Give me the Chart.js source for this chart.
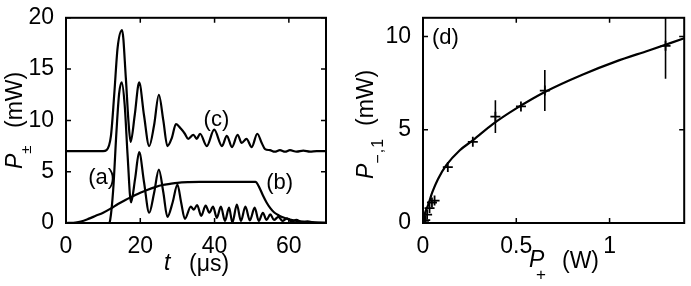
<!DOCTYPE html>
<html>
<head>
<meta charset="utf-8">
<script src="https://cdn.jsdelivr.net/npm/chart.js@4.4.1/dist/chart.umd.min.js"></script>
<style>
  body { margin:0; width:691px; height:286px; background:#fff; position:relative; overflow:hidden;
         font-family:'Liberation Sans', Arial, sans-serif; color:#000; }
  .box { position:absolute; top:0; height:286px; }
  .lbl { position:absolute; font-size:23px; line-height:23px; white-space:nowrap; }
  .rot { transform-origin:0 0; transform:rotate(-90deg); }
  .sub { position:relative; }
</style>
</head>
<body>
<div class="box" style="left:0;width:345px"><canvas id="left"></canvas></div>
<div class="box" style="left:345px;width:346px"><canvas id="right"></canvas></div>

<!-- axis titles -->
<div class="lbl" style="left:164px;top:251px"><i>t</i></div>
<div class="lbl" style="left:189px;top:252px">(μs)</div>
<div class="lbl rot" style="left:3px;top:169px"><i>P</i><span class="sub" style="top:9px;font-size:15px">±</span></div>
<div class="lbl rot" style="left:3px;top:128px">(mW)</div>

<div class="lbl" style="left:529px;top:248px"><i>P</i></div>
<div class="lbl" style="left:536px;top:266px;font-size:17px;line-height:17px">+</div>
<div class="lbl" style="left:562px;top:249px">(W)</div>
<div class="lbl rot" style="left:354px;top:179px"><i>P</i><span class="sub" style="top:10px;font-size:16px;letter-spacing:1px">−,1</span></div>
<div class="lbl rot" style="left:354px;top:126px">(mW)</div>

<script>
// ====== LEFT PANEL: time traces ======
// (a) lower oscillating trace
const tA = [0, 11.5, 11.9, 12.7, 13.6, 14.3, 15.0, 15.8, 16.6, 17.5, 18.6, 19.7, 21.0, 22.4, 23.7, 25.0, 26.2, 27.3, 28.7, 30.0,
            31.0, 32.0, 33.6, 34.4, 35.3, 36.4, 37.6, 38.6, 39.6, 40.6, 41.7, 42.8, 43.9, 44.8, 46.0, 47.1, 48.3, 49.5, 50.8, 51.9,
            53.0, 54.0, 55.0, 56.0, 57.2, 58.3, 59.5, 60.8, 62.0, 63.5, 65.0, 67.0, 70];
const pA = [0, 0, 0.3, 3.2, 9.0, 12.6, 13.7, 11.5, 6.5, 2.0, 4.3, 6.9, 4.0, 1.0, 2.9, 5.2, 3.0, 0.6, 2.0, 3.75,
            2.0, 0.4, 1.6, 1.3, 1.75, 0.7, 1.7, 1.0, 1.6, 0.5, 1.6, 0.2, 1.5, 0.05, 1.8, 0.2, 1.6, 0.25, 1.5, 0.2,
            1.0, 0.3, 0.85, 0.3, 0.6, 0.2, 0.45, 0.15, 0.3, 0.1, 0.15, 0.05, 0.02];
// (b) smooth input pulse
const tB = [0, 2, 4, 6, 8, 10, 12, 14, 16, 18, 20, 22, 24, 26, 28, 30, 33, 36, 51, 52, 53, 54, 55, 56, 57, 58, 60, 62, 65, 70];
const pB = [0, 0.02, 0.15, 0.4, 0.7, 1.0, 1.4, 1.85, 2.25, 2.6, 2.95, 3.25, 3.5, 3.7, 3.82, 3.92, 3.98, 4.0, 4.0, 3.5,
            2.7, 2.0, 1.45, 1.05, 0.8, 0.6, 0.35, 0.2, 0.08, 0.02];
// (c) upper trace (offset by 7 mW)
const tC = [0, 10, 10.9, 12.1, 13.0, 13.9, 15.1, 16.1, 16.8, 17.4, 18.5, 19.7, 21.0, 22.4, 23.7, 25.0, 26.2, 27.3, 28.5, 29.6,
            30.9, 32.0, 32.9, 34.3, 35.2, 36.1, 37.9, 39.9, 42.0, 43.3, 44.7, 46.2, 47.3, 48.6, 50.0, 51.5, 52.7, 53.6, 54.9, 56.2,
            57.6, 59.0, 60.3, 62.1, 63.9, 65.7, 67.5, 70];
const pC = [7, 7, 7.1, 8.5, 12.6, 17.1, 18.8, 14.2, 10.0, 7.9, 10.5, 13.7, 10.5, 7.5, 9.5, 12.5, 10.0, 7.5, 8.3, 9.65,
            9.2, 8.7, 8.2, 8.6, 8.2, 8.7, 7.5, 9.1, 7.5, 8.5, 7.4, 8.6, 7.8, 8.2, 7.4, 8.7, 7.8, 7.2, 7.1, 6.95,
            7.1, 6.95, 7.1, 6.95, 7.05, 6.95, 7.0, 7.0];
const leftNotes = ['(a)', '(b)', '(c)'];
const leftNoteX = [9.6, 57.5, 40.5];
const leftNoteY = [4.4, 3.9, 10.0];

// ====== RIGHT PANEL: P-,1 vs P+ ======
const fitP = [0, 0.01, 0.027, 0.05, 0.08, 0.125, 0.196, 0.267, 0.374, 0.498, 0.658, 0.854, 1.032, 1.21, 1.4];
const fitM = [0, 0.5, 0.95, 1.65, 2.35, 3.1, 3.89, 4.43, 5.3, 6.13, 7.05, 7.95, 8.65, 9.25, 9.9];
const measP = [0.005, 0.012, 0.022, 0.035, 0.048, 0.062, 0.133, 0.267, 0.388, 0.525, 0.653, 1.30];
const measM = [0.05, 0.15, 0.45, 0.8, 1.1, 1.2, 3.0, 4.35, 5.7, 6.25, 7.1, 9.5];
const errM  = [0, 0, 0, 0, 0, 0, 0, 0, 0.88, 0, 1.1, 1.77];
const rightNotes = ['(d)'];
const rightNoteX = [0.12];
const rightNoteY = [9.94];

Chart.defaults.font.family = "'Liberation Sans', Arial, sans-serif";
Chart.defaults.font.size = 23;
Chart.defaults.color = '#000';

function pts(xs, ys) { return xs.map((x, i) => ({ x, y: ys[i] })); }

// inward ticks on all four sides + box frame
const frame = {
  id: 'frame',
  afterDatasetsDraw(chart) {
    const { ctx, chartArea: a, scales: { x, y } } = chart;
    ctx.save();
    ctx.strokeStyle = '#000';
    ctx.lineWidth = 1.5;
    ctx.beginPath();
    x.ticks.forEach(t => {
      const px = x.getPixelForValue(t.value);
      ctx.moveTo(px, a.bottom); ctx.lineTo(px, a.bottom - 5);
      ctx.moveTo(px, a.top); ctx.lineTo(px, a.top + 5);
    });
    y.ticks.forEach(t => {
      const py = y.getPixelForValue(t.value);
      ctx.moveTo(a.left, py); ctx.lineTo(a.left + 5, py);
      ctx.moveTo(a.right, py); ctx.lineTo(a.right - 5, py);
    });
    ctx.stroke();
    ctx.lineWidth = 2;
    ctx.strokeRect(a.left, a.top, a.right - a.left, a.bottom - a.top);
    ctx.restore();
  }
};

function notes(texts, xs, ys) {
  return {
    id: 'notes',
    afterDatasetsDraw(chart) {
      const { ctx, scales: { x, y } } = chart;
      ctx.save();
      ctx.fillStyle = '#000';
      ctx.font = "22px 'Liberation Sans', Arial, sans-serif";
      ctx.textAlign = 'center';
      ctx.textBaseline = 'middle';
      texts.forEach((s, i) => ctx.fillText(s, x.getPixelForValue(xs[i]), y.getPixelForValue(ys[i])));
      ctx.restore();
    }
  };
}

const lineStyle = { borderColor: '#000', borderWidth: 2.2, pointRadius: 0, cubicInterpolationMode: 'monotone', fill: false };

function axes(xmin, xmax, xstep, ymin, ymax, ystep, ywidth) {
  return {
    x: { type: 'linear', min: xmin, max: xmax, grid: { display: false }, border: { display: false },
         ticks: { stepSize: xstep, includeBounds: false, padding: 2, maxRotation: 0, callback: v => String(+v.toFixed(2)) },
         afterFit(s) { s.height = 63; } },
    y: { type: 'linear', min: ymin, max: ymax, grid: { display: false }, border: { display: false },
         ticks: { stepSize: ystep, includeBounds: false, padding: 4, callback: v => String(+v.toFixed(2)) },
         afterFit(s) { s.width = ywidth; } }
  };
}

new Chart(document.getElementById('left'), {
  type: 'line',
  data: { datasets: [
    { ...lineStyle, data: pts(tB, pB) },
    { ...lineStyle, data: pts(tA, pA) },
    { ...lineStyle, data: pts(tC, pC) }
  ]},
  options: {
    responsive: true, maintainAspectRatio: false, animation: false, devicePixelRatio: 1,
    layout: { padding: { top: 17, right: 19, left: 0, bottom: 0 } },
    plugins: { legend: { display: false }, tooltip: { enabled: false } },
    scales: axes(0, 70, 20, 0, 20, 5, 66)
  },
  plugins: [frame, notes(leftNotes, leftNoteX, leftNoteY)]
});

// error bars as short vertical segments separated by gaps
const errBars = [];
measP.forEach((p, i) => {
  if (errM[i] > 0) errBars.push({ x: p, y: measM[i] - errM[i] }, { x: p, y: measM[i] + errM[i] }, { x: p, y: null });
});

new Chart(document.getElementById('right'), {
  type: 'line',
  data: { datasets: [
    { ...lineStyle, data: pts(fitP, fitM) },
    { data: errBars, borderColor: '#000', borderWidth: 1.6, pointRadius: 0, spanGaps: false, tension: 0 },
    { data: pts(measP, measM), showLine: false, pointStyle: 'cross', pointRadius: 5,
      pointBorderWidth: 1.8, pointBorderColor: '#000', borderColor: '#000' }
  ]},
  options: {
    responsive: true, maintainAspectRatio: false, animation: false, devicePixelRatio: 1,
    layout: { padding: { top: 17, right: 6, left: 0, bottom: 0 } },
    plugins: { legend: { display: false }, tooltip: { enabled: false } },
    scales: axes(0, 1.4, 0.5, 0, 11, 5, 78)
  },
  plugins: [frame, notes(rightNotes, rightNoteX, rightNoteY)]
});
</script>
</body>
</html>
